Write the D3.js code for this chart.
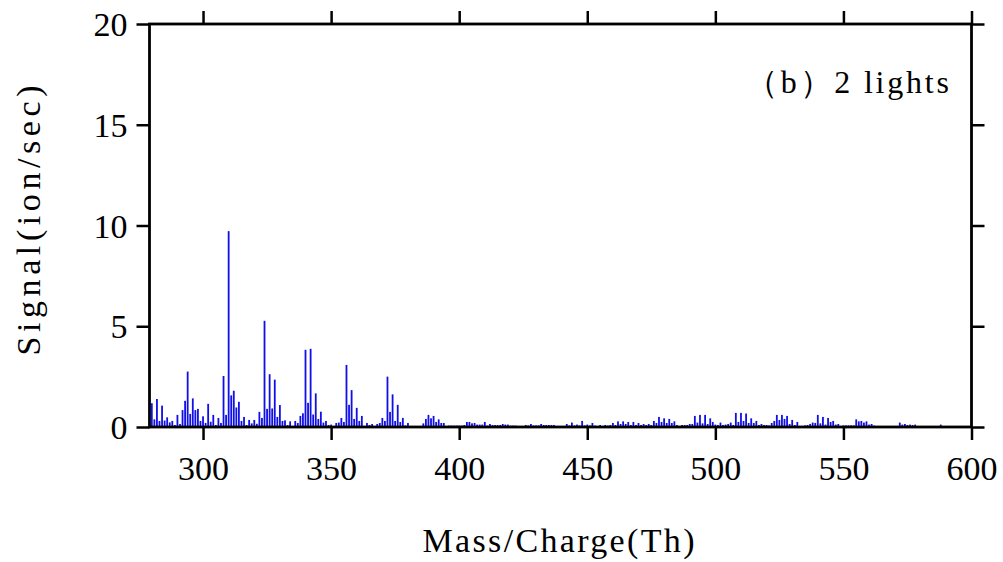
<!DOCTYPE html>
<html><head><meta charset="utf-8">
<script src="https://cdn.jsdelivr.net/npm/d3@7"></script>
<style>body{margin:0;background:#fff}svg{display:block}</style>
</head><body>
<svg id="c" width="1003" height="562"></svg>
<script>
// Mass/Charge categories start at 280 Th, 1 Th apart
const massStart = 280;
const signal = [
  1.18,0.38,1.39,0.30,1.06,0.32,0.48,0.23,0.30,0.10,
  0.60,0.15,0.84,1.30,2.75,0.65,1.42,0.84,0.90,0.30,
  0.53,0.20,1.15,0.26,0.60,0.10,0.45,0.20,2.53,0.60,
  9.72,1.57,1.80,0.97,1.25,0.30,0.50,0.10,0.35,0.18,
  0.35,0.16,0.75,0.45,5.27,0.90,2.62,0.92,2.35,0.50,
  1.09,0.30,0.33,0.10,0.28,0.05,0.30,0.20,0.55,0.68,
  3.83,1.20,3.88,0.62,1.67,0.40,0.76,0.22,0.30,0.10,
  0.12,0.05,0.20,0.22,0.45,0.25,3.08,1.10,1.83,0.40,
  0.95,0.30,0.55,0.05,0.20,0.10,0.15,0.02,0.15,0.20,
  0.45,0.30,2.50,0.75,1.62,0.30,1.10,0.25,0.45,0.08,
  0.20,0.05,0.05,0.05,0.05,0.05,0.18,0.40,0.60,0.43,
  0.55,0.25,0.38,0.20,0.20,0.05,0.07,0.07,0.07,0.07,
  0.07,0.07,0.10,0.25,0.25,0.18,0.20,0.12,0.12,0.12,
  0.25,0.07,0.15,0.10,0.10,0.10,0.10,0.15,0.12,0.12,
  0.07,0.07,0.07,0.02,0.02,0.02,0.10,0.08,0.15,0.08,
  0.08,0.08,0.15,0.10,0.10,0.10,0.10,0.10,0.05,0.05,
  0.05,0.05,0.15,0.08,0.22,0.08,0.12,0.08,0.30,0.08,
  0.12,0.08,0.20,0.07,0.05,0.10,0.05,0.10,0.07,0.10,
  0.20,0.10,0.28,0.15,0.28,0.15,0.25,0.10,0.25,0.10,
  0.20,0.10,0.15,0.10,0.15,0.10,0.30,0.20,0.50,0.25,
  0.43,0.20,0.40,0.20,0.28,0.10,0.05,0.10,0.10,0.10,
  0.15,0.15,0.55,0.22,0.60,0.18,0.60,0.15,0.43,0.25,
  0.12,0.10,0.22,0.10,0.12,0.15,0.22,0.10,0.70,0.25,
  0.70,0.30,0.67,0.20,0.43,0.20,0.30,0.10,0.15,0.10,
  0.10,0.08,0.20,0.30,0.60,0.35,0.60,0.40,0.55,0.15,
  0.35,0.10,0.25,0.02,0.05,0.08,0.10,0.15,0.22,0.20,
  0.60,0.18,0.50,0.12,0.45,0.25,0.30,0.12,0.15,0.05,
  0.08,0.08,0.08,0.08,0.08,0.38,0.28,0.30,0.22,0.28,
  0.12,0.15,0.07,0.05,0.05,0.05,0.05,0.05,0.05,0.03,
  0.03,0.05,0.22,0.12,0.15,0.10,0.12,0.10,0.12,0.05,
  0.05,0.05,0.05,0.05,0.05,0.05,0.05,0.05,0.12,0.05,
  0.05,0.05,0.05,0.05,0.05,0.05,0.05,0.05,0.05,0.05,0.05
];
const masses = signal.map((_, i) => massStart + i);
const xTicks = [300, 350, 400, 450, 500, 550, 600];
const yTicks = [0, 5, 10, 15, 20];
const xTitle = "Mass/Charge(Th)";
const yTitle = "Signal(ion/sec)";
const label = "（b）2 lights";

const svg = d3.select("#c");
const L = 149.5, R = 971.5, T = 24, B = 427;
const x = d3.scaleLinear().domain([279.1, 600]).range([L, R]);
const y = d3.scaleLinear().domain([0, 20]).range([B, T]);
const font = "'Liberation Serif', 'DejaVu Serif', serif";

// bars
svg.append("g").selectAll("rect").data(masses).join("rect")
  .attr("x", d => x(d) - 0.9)
  .attr("width", 1.8)
  .attr("y", (d, i) => y(signal[i]))
  .attr("height", (d, i) => y(0) - y(signal[i]))
  .attr("fill", "#1010e6");

// axes
const tickLen = 13;
const gB = svg.append("g").attr("transform", `translate(0,${B})`)
  .call(d3.axisBottom(x).tickValues(xTicks).tickSize(tickLen).tickPadding(16).tickFormat(d3.format("d")));
const gT = svg.append("g").attr("transform", `translate(0,${T})`)
  .call(d3.axisTop(x).tickValues(xTicks).tickSize(tickLen).tickFormat(""));
const gL = svg.append("g").attr("transform", `translate(${L},0)`)
  .call(d3.axisLeft(y).tickValues(yTicks).tickSize(tickLen).tickPadding(9).tickFormat(d3.format("d")));
const gR = svg.append("g").attr("transform", `translate(${R},0)`)
  .call(d3.axisRight(y).tickValues(yTicks).tickSize(tickLen).tickFormat(""));
[gB, gT, gL, gR].forEach(g => {
  g.select(".domain").remove();
  g.selectAll(".tick line").attr("stroke", "#000").attr("stroke-width", 2.5);
  g.selectAll(".tick text").attr("font-family", font).attr("font-size", 34).attr("fill", "#000");
});
gB.selectAll(".tick text").attr("dy", "0.71em");
gL.selectAll(".tick text").attr("dy", "0.34em");

// frame
svg.append("rect").attr("x", L).attr("y", T).attr("width", R - L).attr("height", B - T)
  .attr("fill", "none").attr("stroke", "#000").attr("stroke-width", 2.8);

// titles
svg.append("text").attr("x", (L + R) / 2 - 2).attr("y", 552)
  .attr("text-anchor", "middle").attr("font-family", font).attr("font-size", 34)
  .attr("textLength", 272).attr("lengthAdjust", "spacing").text(xTitle);
svg.append("text").attr("transform", `translate(40,${(T + B) / 2 - 5}) rotate(-90)`)
  .attr("text-anchor", "middle").attr("font-family", font).attr("font-size", 34)
  .attr("textLength", 270).attr("lengthAdjust", "spacing").text(yTitle);
svg.append("text").attr("x", 949).attr("y", 93)
  .attr("text-anchor", "end").attr("font-family", font).attr("font-size", 32)
  .attr("textLength", 203).attr("lengthAdjust", "spacing").text(label);
</script>
</body></html>
